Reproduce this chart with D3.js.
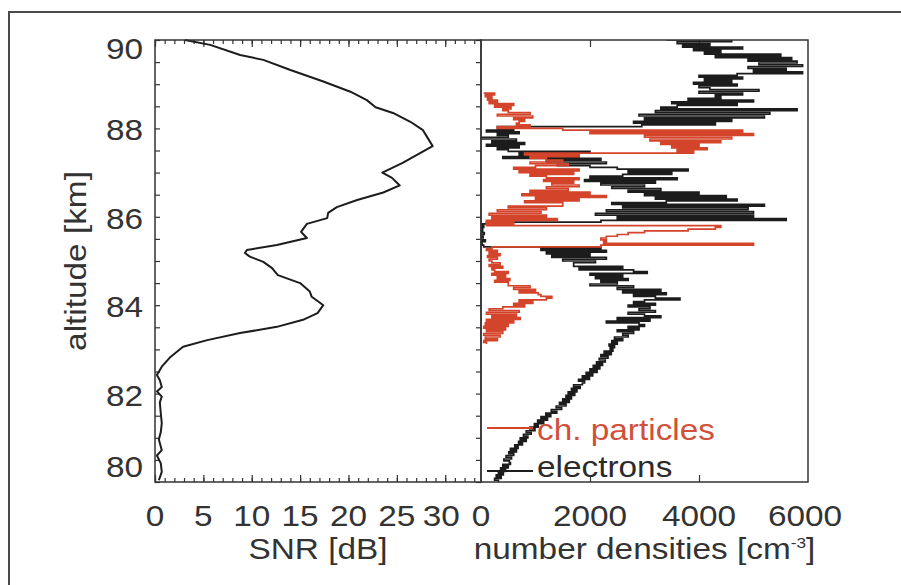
<!DOCTYPE html>
<html>
<head>
<meta charset="utf-8">
<script src="https://cdn.jsdelivr.net/npm/d3@7"></script>
<style>
  html, body { margin: 0; padding: 0; background: #fff; }
  svg { display: block; }
  text { font-family: "Liberation Sans", Arial, Helvetica, sans-serif; fill: #333; }
</style>
</head>
<body>
<svg id="chart" width="901" height="585"></svg>
<script>
// ---- SNR profile (altitude in km, SNR in dB) ----
const snrAltitudes = [90.0, 89.89, 89.66, 89.55, 89.32, 89.06, 88.83, 88.64, 88.48, 88.35, 88.15, 87.96, 87.78, 87.6,
  87.44, 87.22, 87.0, 86.88, 86.71, 86.55, 86.38, 86.22, 86.09, 85.97, 85.84, 85.66, 85.52, 85.36, 85.25, 85.18,
  85.1, 84.98, 84.84, 84.68, 84.5, 84.31, 84.19, 84.0, 83.82, 83.67, 83.51, 83.37, 83.21, 83.06, 82.83, 82.61,
  82.42, 82.3, 82.15, 82.05, 81.93, 81.8, 81.55, 81.33, 81.13, 80.96, 80.72, 80.6, 80.42, 80.23, 80.04];
const snrValues = [3.1, 5.7, 8.8, 11.2, 14.0, 17.4, 20.2, 21.9, 22.8, 24.6, 26.4, 27.7, 28.2, 28.7,
  27.4, 25.6, 23.5, 24.5, 25.3, 23.6, 20.9, 18.8, 17.9, 17.8, 15.7, 15.1, 15.7, 12.6, 9.5, 9.3,
  9.8, 11.2, 12.1, 12.7, 15.0, 16.0, 16.2, 17.4, 16.8, 15.3, 12.6, 8.8, 5.4, 2.9, 1.6, 0.7,
  0.2, 0.5, 0.7, 0.2, 0.7, 0.5, 0.6, 0.7, 0.6, 0.4, 0.7, 0.2, 0.6, 0.7, 0.4];

// ---- number densities [cm^-3], sampled every 0.04 km downward from the top altitude ----
const electronTopAltitude = 90.0;
const particleTopAltitude = 88.8;
const sampleStep = 0.04;
const electronDensity = [
  3400, 4600, 3600, 4200, 3700, 4800, 3900, 4400, 4100, 5500, 4300,
  5700, 4900, 5800, 5100, 5900, 4900, 5600, 5000, 5900, 4700,
  4000, 4800, 4100, 4600, 3900, 4700, 4000,
  4200, 5100, 4000, 4800, 4300, 4400, 3800, 5000, 3500, 4700, 3600,
  3300, 5800, 3200, 5300, 2900, 5200, 3000, 4600, 2800, 4300,
  2950, 300,
  600, 100, 700, 300, 500, 0, 650, 200, 800, 100, 700, 300,
  500, 2000, 700, 1800, 400,
  2200, 1200, 2300, 1400, 2000,
  2500, 3800, 2700, 3500, 2600,
  2000, 3600, 1900, 3200, 2200, 3000, 2400, 3300,
  2700, 4000, 3000, 4500, 3200, 4700, 3400,
  2400, 5200, 2600, 4900, 2300, 5000,
  2100, 5000, 2500, 5600, 2200,
  100,
  0, 50, 0, 30, 0, 60, 0, 40, 0, 80, 20, 0, 50,
  2200,
  1100, 2300, 1200, 2000,
  1300, 2300, 1500, 2100, 1700,
  1700, 2600, 1800, 2800, 3050,
  2000, 2600, 2100, 2700, 2200, 2500, 2000, 2800,
  2500, 3300, 2600, 3400, 2800,
  3200, 3650, 3000,
  2800, 3200, 2700, 3100, 2900, 3200, 2700, 3000,
  3300, 2500, 3100, 2300, 2900, 3000,
  2700, 2900, 2500, 2800, 2600, 2700, 2450, 2600,
  2400, 2500, 2350, 2450, 2370,
  2420, 2260, 2390, 2200, 2330, 2170, 2280, 2120, 2230, 2060,
  2180, 2000, 2130, 1930, 2050, 1860, 1990, 1790, 1900,
  1860, 1700, 1820, 1660, 1760, 1600, 1720, 1560, 1660, 1500,
  1620, 1440, 1560, 1380, 1480, 1290, 1390, 1190, 1280, 1100,
  1220, 1040, 1150, 980, 1050, 900, 990, 830, 920, 780, 860, 720,
  830, 690, 760, 620, 680, 540,
  650, 510, 600, 460, 560, 420, 520,
  540, 400, 500, 360, 450, 320, 410, 280, 370, 250, 320
];
const particleDensity = [
  50, 250, 80, 200, 120, 300,
  150, 600, 250, 550, 400,
  500, 900, 300, 950, 600, 800, 700,
  650, 900,
  300, 1500, 4800, 2000, 5000, 3000,
  4600, 3100, 4400, 3300, 4000,
  3500, 4150, 3600, 3900,
  800, 1800, 900,
  1200, 1500, 900, 1600, 1000,
  600, 1800, 700, 1700, 900,
  1200, 1800, 1150, 1700, 1300, 1800, 1200, 1600,
  900, 2000, 750, 2300, 1000, 1800, 800, 1500,
  1500, 500, 1200, 300,
  1100, 150, 1200, 200,
  1400, 100, 600,
  100, 4400, 4300, 3800, 3000, 2700, 2500, 2300, 2200, 2300, 2250, 5000, 2200, 200,
  100, 300, 150, 350, 120, 300, 150,
  200, 350, 150, 400, 200,
  250, 500, 200, 450, 300, 530, 250, 500,
  500, 900, 600, 1000, 700, 1050,
  1100, 1300, 1200,
  700, 950, 600,
  800, 400,
  150, 700, 100, 650, 200, 720, 100, 600,
  80, 500, 50, 450, 100, 400, 50, 350, 80, 300, 50, 100
];

// ---- axis ticks and labels ----
const altitudeTicks = [80, 82, 84, 86, 88, 90];
const snrTicks = [0, 5, 10, 15, 20, 25, 30];
const densityTicks = [0, 2000, 4000, 6000];
const legendNames = ["ch. particles", "electrons"];

const red = "#d4442b";
const ink = "#1c1c1c";
const textStretch = 1.15;

const svg = d3.select("#chart");

const y = d3.scaleLinear().domain([80, 90]).range([482, 40]);
const xSnr = d3.scaleLinear().domain([0, 33.7]).range([155, 481]);
const xDen = d3.scaleLinear().domain([0, 6000]).range([481, 808]);

// outer frame
svg.append("path")
  .attr("d", "M9,600 L9,12 L910,12")
  .attr("fill", "none").attr("stroke", "#4a4a4a").attr("stroke-width", 2);

// tick marks via d3 axes (inward ticks, no domain path)
function ticks(axis, transform) {
  const g = svg.append("g").attr("transform", transform).call(axis);
  g.select(".domain").remove();
  g.selectAll("line").attr("stroke", "#333").attr("stroke-width", 1.2);
  g.selectAll("text").remove();
  return g;
}
const snrMinor = d3.range(0, 34, 1);
const altMinor = d3.range(80, 90.01, 0.5);

ticks(d3.axisBottom(xSnr).tickValues(snrMinor).tickSize(-4), "translate(0,482)");
ticks(d3.axisBottom(xSnr).tickValues(snrTicks).tickSize(-7), "translate(0,482)");
ticks(d3.axisTop(xSnr).tickValues(snrMinor).tickSize(-4), "translate(0,40)");
ticks(d3.axisTop(xSnr).tickValues(snrTicks).tickSize(-7), "translate(0,40)");
ticks(d3.axisLeft(y).tickValues(altMinor).tickSize(-5), "translate(155,0)");
ticks(d3.axisRight(y).tickValues(altMinor).tickSize(-5), "translate(481,0)");
ticks(d3.axisBottom(xDen).tickValues([2000, 4000]).tickSize(-7), "translate(0,482)");
ticks(d3.axisTop(xDen).tickValues([2000, 4000]).tickSize(-7), "translate(0,40)");

// SNR curve
const snrLine = d3.line().x(d => xSnr(d[1])).y(d => y(d[0]));
svg.append("path")
  .datum(snrAltitudes.map((a, i) => [a, snrValues[i]]))
  .attr("d", snrLine)
  .attr("fill", "none").attr("stroke", ink).attr("stroke-width", 2).attr("stroke-linejoin", "round");

// density curves, drawn as horizontal steps per altitude bin
const denLine = d3.line().x(d => xDen(d[1])).y(d => y(d[0])).curve(d3.curveStepAfter);
const electrons = electronDensity.map((v, i) => [electronTopAltitude - i * sampleStep, v]);
const particles = particleDensity.map((v, i) => [particleTopAltitude - i * sampleStep, v]);
svg.append("clipPath").attr("id", "denClip")
  .append("rect").attr("x", 481).attr("y", 40).attr("width", 327).attr("height", 442);
svg.append("path").datum(electrons).attr("d", denLine).attr("clip-path", "url(#denClip)")
  .attr("fill", "none").attr("stroke", ink).attr("stroke-width", 1.7);
svg.append("path").datum(particles).attr("d", denLine).attr("clip-path", "url(#denClip)")
  .attr("fill", "none").attr("stroke", red).attr("stroke-width", 1.7);

// panel frames
svg.append("rect").attr("x", 155).attr("y", 40).attr("width", 326).attr("height", 442)
  .attr("fill", "none").attr("stroke", "#333").attr("stroke-width", 1.5);
svg.append("rect").attr("x", 481).attr("y", 40).attr("width", 327).attr("height", 442)
  .attr("fill", "none").attr("stroke", "#333").attr("stroke-width", 1.5);

// text helper with the slightly wide lettering
function label(x, yPos, str, anchor, size, rotate) {
  const t = svg.append("text")
    .attr("transform", `translate(${x},${yPos})${rotate ? " rotate(-90)" : ""} scale(${textStretch},1)`)
    .attr("text-anchor", anchor).attr("font-size", size);
  t.text(str);
  return t;
}

// altitude tick labels (end labels sit inside the axis range)
altitudeTicks.forEach(v => {
  let off = 2;
  if (v === 90) off = 9;
  if (v === 80) off = -15;
  label(143, y(v) + off + 10, String(v), "end", 29);
});
// SNR tick labels
snrTicks.forEach(v => {
  label(xSnr(v) - (v === 30 ? 4 : 0), 526, String(v), "middle", 29);
});
// density tick labels
densityTicks.forEach(v => {
  label(xDen(v) - (v === 6000 ? 3 : 0), 526, String(v), "middle", 29);
});

// axis titles
label((xSnr.range()[0] + xSnr.range()[1]) / 2, 559, "SNR [dB]", "middle", 29);
const dt = label((481 + 808) / 2, 559, "number densities [cm", "middle", 29);
dt.append("tspan").attr("font-size", 15).attr("dy", -11).text("-3");
dt.append("tspan").attr("dy", 11).text("]");
label(86, 261, "altitude [km]", "middle", 29, true);

// legend
const legendColors = [red, ink];
const legendY = [428, 471];
const legendBase = [440, 477];
legendNames.forEach((name, i) => {
  svg.append("line").attr("x1", 487).attr("x2", 533).attr("y1", legendY[i]).attr("y2", legendY[i])
    .attr("stroke", legendColors[i]).attr("stroke-width", 2);
  label(537, legendBase[i], name, "start", 29).style("fill", i === 0 ? "#d0503a" : "#2b2b2b");
});
</script>
</body>
</html>
